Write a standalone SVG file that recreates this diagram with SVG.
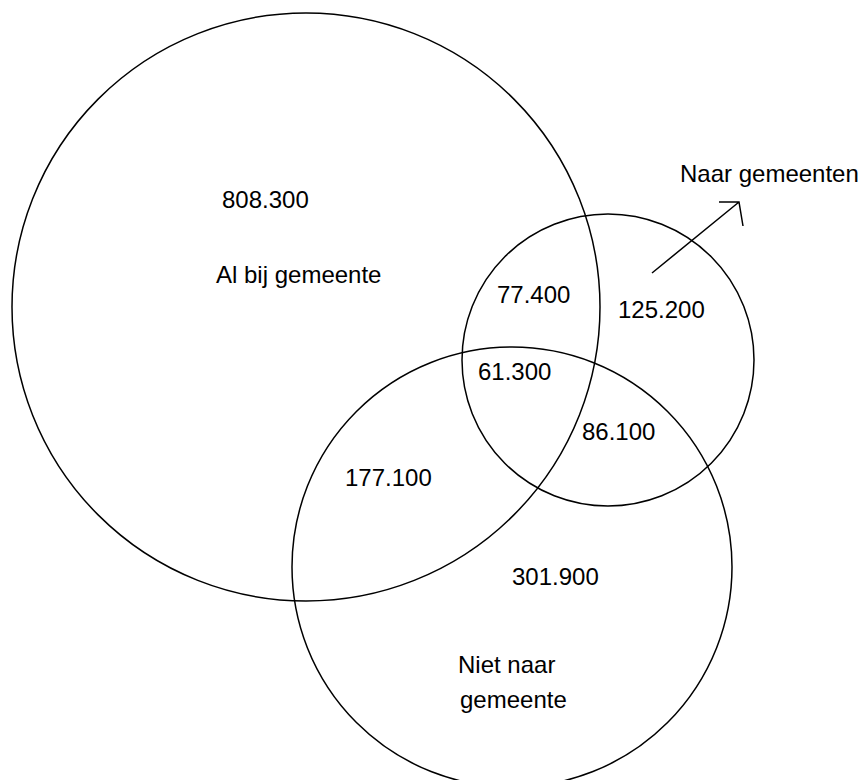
<svg xmlns="http://www.w3.org/2000/svg" width="860" height="780" viewBox="0 0 860 780">
<style>
.c{fill:none;stroke:#000;stroke-width:1.5}
.t{font-family:"Liberation Sans",Arial,sans-serif;font-size:24px;fill:#000}
.a{fill:none;stroke:#000;stroke-width:1.5}
</style>
<rect width="860" height="780" fill="#fff"/>
<g id="al-bij-gemeente">
<circle class="c" cx="306" cy="307" r="294"/>
<text class="t" x="222" y="208">808.300</text>
<text class="t" x="216" y="283">Al bij gemeente</text>
</g>
<g id="naar-gemeenten">
<circle class="c" cx="608" cy="360" r="146"/>
<text class="t" x="618" y="318">125.200</text>
<text class="t" x="680" y="182">Naar gemeenten</text>
</g>
<g id="niet-naar-gemeente">
<circle class="c" cx="512" cy="567" r="220"/>
<text class="t" x="512" y="585">301.900</text>
<text class="t" x="458" y="673">Niet naar</text>
<text class="t" x="460" y="708">gemeente</text>
</g>
<g id="overlaps">
<text class="t" x="497" y="303">77.400</text>
<text class="t" x="478" y="380">61.300</text>
<text class="t" x="582" y="440">86.100</text>
<text class="t" x="345" y="486">177.100</text>
</g>
<g id="connectors">
<path class="a" d="M652,273 L739,202 M719,202 L739,202 L743,226"/>
</g>
</svg>
